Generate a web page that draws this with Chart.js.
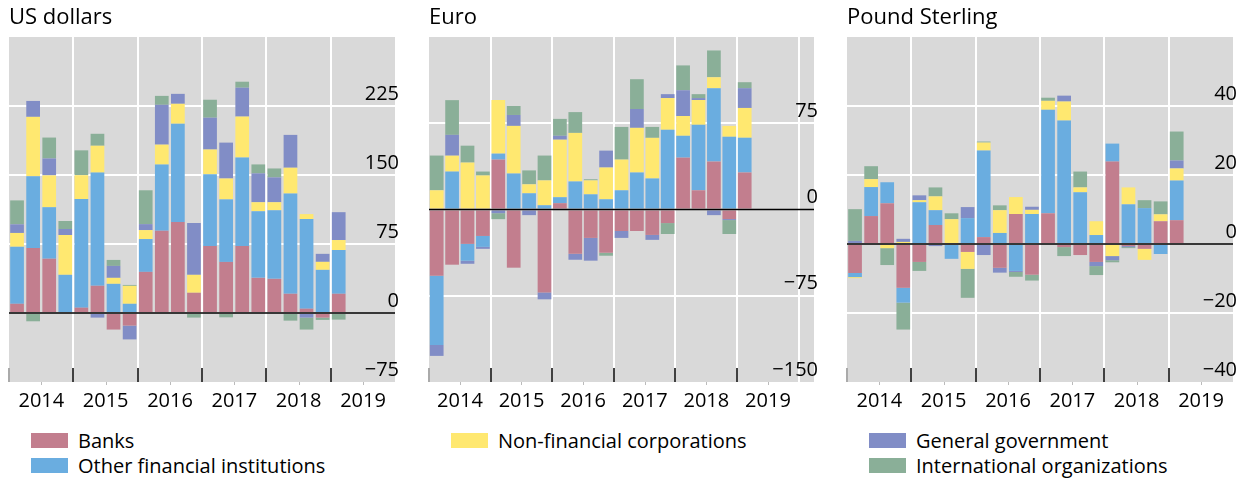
<!DOCTYPE html>
<html>
<head>
<meta charset="utf-8">
<script src="https://cdn.jsdelivr.net/npm/chart.js@4.4.1/dist/chart.umd.min.js"></script>
<style>
  body { margin: 0; background: #fff; font-family: 'Open Sans', sans-serif; }
  canvas { position: absolute; top: 0; }
  .key { position: absolute; font-size: 20px; color: #000; white-space: nowrap; height: 26px; line-height: 26px; }
  .key span { display: inline-block; width: 37px; height: 15px; vertical-align: middle; margin-right: 10px; position: relative; top: -2px; }
</style>
</head>
<body>
<canvas id="usd" width="412" height="420" style="left:0px"></canvas>
<canvas id="eur" width="411" height="420" style="left:420px"></canvas>
<canvas id="gbp" width="412" height="420" style="left:838px"></canvas>
<div id="legend"></div>
<script>
const years = ['2014', '2015', '2016', '2017', '2018', '2019'];
const quarters = ['14Q1','14Q2','14Q3','14Q4','15Q1','15Q2','15Q3','15Q4','16Q1','16Q2','16Q3','16Q4',
                  '17Q1','17Q2','17Q3','17Q4','18Q1','18Q2','18Q3','18Q4','19Q1'];

const seriesNames = ['Banks', 'Other financial institutions', 'Non-financial corporations',
                     'General government', 'International organizations'];
const seriesColors = ['#c27e8e', '#6aade0', '#ffe870', '#818dc6', '#8aaf98'];

// US dollars
const usdBanks = [10, 70.7, 59, 0, 5.8, 29.6, -18, -13.7, 44.7, 89.4, 98.8, 22, 72.8, 55.5, 72.8, 38.2, 37.1, 20.9, 4.7, -5, 20.9];
const usdOther = [62, 78, 56, 41.5, 118, 123, 31.7, 10, 35.7, 72, 107, 0, 77.9, 68, 96.3, 72.5, 74.6, 109, 97.4, 46.9, 47.6];
const usdNonFin = [15, 64.5, 34.6, 43.3, 26, 29.2, 6.5, 19.5, 9.7, 21.6, 21.6, 19.5, 27, 22.7, 44.4, 9.7, 8.7, 28, 5.4, 8.7, 10.8];
const usdGov = [9.4, 17.3, 18.4, 6.5, 0, -5, 13, -15, 6.5, 43.3, 10.8, 56.3, 34.6, 39, 31.4, 31.4, 27, 35.7, -5, 8.7, 30.3];
const usdIntl = [26, -9, 22.7, 8.7, 27, 13, 6.5, 1, 36.8, 9.7, 0, -5, 19.5, -4.7, 6.5, 9.7, 9.7, -8.3, -13, -2.5, -7.2];
const usdTicks = [-75, 0, 75, 150, 225];

// Euro
const eurBanks = [-57.5, -48, -29.9, -23, 43.4, -50.6, 0, -72.1, 5.5, -38.5, -24.7, -37.6, -18.7, -18.7, -22.1, -11.8, 45.1, 16.7, 41.7, -8.3, 32.2];
const eurOther = [-60.3, 33, -14.7, -9.5, 5.2, 31.3, 14.1, 3.7, 5.2, 24.4, 13.2, 8.9, 16.7, 32.2, 27, 69.3, 19, 56.9, 63.8, 63.2, 30.2];
const eurNonFin = [16.7, 13.8, 40.8, 29.6, 46.6, 41.4, 7.8, 21.6, 50, 42.2, 12.1, 27.6, 26.7, 38.8, 35.3, 27.6, 17.2, 21.6, 9.5, 9.5, 25.9];
const eurGov = [-9.5, 18.1, -2.6, -1.7, -3.2, 9.5, -4.9, -6, 3.4, -5.2, -19.8, 14.7, -6, 16.4, -4.3, 3.4, 22.4, 1.7, -4.9, -0.9, 17.2];
const eurIntl = [30.2, 30.2, 14.7, 3.4, -5.2, 7.8, 12.1, 21.6, 14.7, 18.1, 1, -2.6, 28.4, 25.9, 9.5, -9.5, 21.6, 3.4, 23.3, -12.1, 5.2];
const eurTicks = [-150, -75, 0, 75];

// Pound sterling
const gbpBanks = [-8.4, 8.1, 11.8, -12.7, -5.2, 5.5, 0, -2.3, 2, -6.9, 8.7, -8.9, 8.9, -0.9, -3.2, -5.2, 23.9, -0.6, -1.4, 6.6, 6.9];
const gbpOther = [-1.2, 8.4, 6.1, -4.3, 12.1, 4.3, -4.3, 7.5, 25.1, 3.2, -7.8, 8.7, 30, 35.8, 15, 2.6, 5.2, 11.5, 10.4, -2.9, 11.5];
const gbpNonFin = [-0.3, 2.3, -1.2, 0.6, 0.6, 4, 7.2, -4.9, 2.3, 6.6, 4.9, 1.2, 2.6, 5.5, 1.4, 4, -3.5, 4.9, -3.2, 2, 3.5];
const gbpGov = [0.9, 0, 0, 0.9, 1.4, -0.6, 0, 3.2, -3.2, -1.4, -0.3, 0.9, 0, 1.7, 0, -1.2, -1.2, -0.3, 0, 0, 2.3];
const gbpIntl = [9.2, 3.75, -4.9, -7.8, -2.6, 2.6, 1.7, -8.4, 0.3, 1.4, -1.4, -1.7, 0.9, -2.6, 4.6, -2.6, -0.6, -0.3, 2.3, 3.75, 8.4];
const gbpTicks = [-40, -20, 0, 20, 40];

const FONT = "'Open Sans', sans-serif";

// grey plot area, zero line and year tick marks
const panelDeco = {
  id: 'panelDeco',
  beforeDraw(chart) {
    const { ctx, chartArea: a } = chart;
    ctx.save();
    ctx.fillStyle = '#d9d9d9';
    ctx.fillRect(a.left, a.top, a.right - a.left, a.bottom - a.top);
    ctx.restore();
  },
  afterDatasetsDraw(chart) {
    const { ctx, chartArea: a, scales: { y } } = chart;
    const slot = (a.right - a.left) / chart.data.labels.length;
    const y0 = y.getPixelForValue(0);
    ctx.save();
    ctx.strokeStyle = '#000';
    ctx.lineWidth = 1.5;
    ctx.beginPath();
    ctx.moveTo(a.left, y0);
    ctx.lineTo(a.right, y0);
    ctx.stroke();
    for (let i = 0; i < years.length; i++) {
      const px = Math.round(a.left + i * 4 * slot);
      ctx.strokeStyle = i === 0 ? '#aaa' : '#404040';
      ctx.lineWidth = 2;
      ctx.beginPath();
      ctx.moveTo(px, a.bottom - 14);
      ctx.lineTo(px, a.bottom);
      ctx.stroke();
      const mx = Math.round(a.left + (i * 4 + 2) * slot) + 0.5;
      ctx.strokeStyle = '#bbb';
      ctx.lineWidth = 1;
      ctx.beginPath();
      ctx.moveTo(mx, a.bottom);
      ctx.lineTo(mx, a.bottom + 3);
      ctx.stroke();
    }
    ctx.restore();
  }
};

function makeChart(id, title, values, ticks, yMin, yMax, nSlots, plotWidth) {
  const labels = quarters.slice();
  while (labels.length < nSlots) labels.push('');
  const slot = plotWidth / nSlots;
  return new Chart(document.getElementById(id), {
    type: 'bar',
    data: {
      labels: labels,
      datasets: values.map((v, i) => ({
        label: seriesNames[i],
        data: v,
        backgroundColor: seriesColors[i],
        borderWidth: 0,
        categoryPercentage: 1,
        barPercentage: 14 / slot
      }))
    },
    options: {
      responsive: false,
      animation: false,
      layout: { padding: { left: 9, right: 9, top: 0, bottom: 0 } },
      plugins: {
        legend: { display: false },
        tooltip: { enabled: false },
        title: {
          display: true, text: title, align: 'start', color: '#000',
          font: { family: FONT, size: 22, weight: 'normal' },
          padding: { top: 5, bottom: 5.6 }
        }
      },
      scales: {
        x: {
          stacked: true,
          border: { display: false },
          grid: {
            offset: true, drawTicks: false, lineWidth: 2,
            color: c => (c.index % 4 === 0 && c.index > 0) ? '#fff' : 'rgba(0,0,0,0)'
          },
          ticks: {
            autoSkip: false, maxRotation: 0, padding: 7, color: '#000',
            labelOffset: slot / 2,
            font: { family: FONT, size: 20 },
            callback: (v, i) => i % 4 === 1 ? years[Math.floor(i / 4)] : ''
          }
        },
        y: {
          stacked: true,
          position: 'right',
          min: yMin, max: yMax,
          afterBuildTicks: s => { s.ticks = ticks.concat([yMax]).map(t => ({ value: t })); },
          border: { display: false },
          grid: {
            drawTicks: false, lineWidth: 2,
            color: c => (c.tick.value === 0 || c.tick.value === yMin || c.tick.value === yMax) ? 'rgba(0,0,0,0)' : '#fff'
          },
          ticks: {
            mirror: true, padding: 4, labelOffset: -12, color: '#000',
            font: { family: FONT, size: 20 },
            callback: v => v === yMax ? '' : (v < 0 ? '\u2212' + Math.abs(v) : String(v))
          }
        }
      }
    },
    plugins: [panelDeco]
  });
}

makeChart('usd', 'US dollars', [usdBanks, usdOther, usdNonFin, usdGov, usdIntl], usdTicks, -75, 300, 24, 394);
makeChart('eur', 'Euro', [eurBanks, eurOther, eurNonFin, eurGov, eurIntl], eurTicks, -150, 150, 25, 393);
makeChart('gbp', 'Pound Sterling', [gbpBanks, gbpOther, gbpNonFin, gbpGov, gbpIntl], gbpTicks, -40, 60, 24, 394);

// legend: series index -> [left, top]
const legendPlaces = [[31, 428], [31, 453], [451, 428], [869, 428], [869, 453]];
const legend = document.getElementById('legend');
seriesNames.forEach((name, i) => {
  const d = document.createElement('div');
  d.className = 'key';
  d.style.left = legendPlaces[i][0] + 'px';
  d.style.top = legendPlaces[i][1] + 'px';
  d.innerHTML = '<span style="background:' + seriesColors[i] + '"></span>' + name;
  legend.appendChild(d);
});
</script>
</body>
</html>
